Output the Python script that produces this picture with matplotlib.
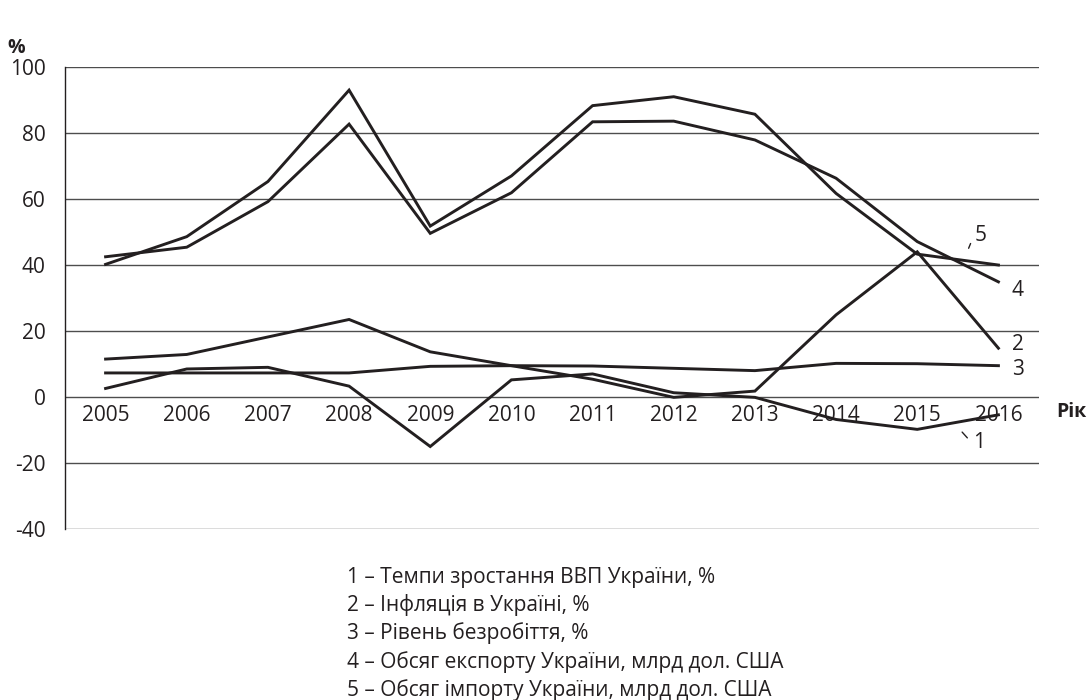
import matplotlib
matplotlib.use("Agg")
from matplotlib import pyplot as plt

# ─────────────────────────────────────────────────────────────
# DATA
# ─────────────────────────────────────────────────────────────

years        = [2005, 2006, 2007, 2008, 2009, 2010, 2011, 2012, 2013, 2014, 2015, 2016]
gdp_growth   = [2.5, 8.4, 8.9, 3.2, -15.1, 5.1, 6.9, 1.2, -0.2, -6.9, -9.9, -5.5]
inflation    = [11.4, 12.8, 18.1, 23.4, 13.6, 9.4, 5.3, -0.2, 1.7, 24.8, 43.9, 14.7]
unemployment = [7.2, 7.2, 7.2, 7.2, 9.2, 9.4, 9.3, 8.6, 7.9, 10.1, 10.0, 9.4]
export_vol   = [42.4, 45.3, 59.1, 82.6, 49.5, 61.8, 83.3, 83.5, 77.8, 66.2, 47.0, 34.8]
import_vol   = [40.1, 48.5, 65.2, 92.9, 51.7, 66.9, 88.2, 90.9, 85.6, 61.6, 43.2, 39.9]

y_ticks = [-40, -20, 0, 20, 40, 60, 80, 100]

legend_lines = [
    "1 – Темпи зростання ВВП України, %",
    "2 – Інфляція в Україні, %",
    "3 – Рівень безробіття, %",
    "4 – Обсяг експорту України, млрд дол. США",
    "5 – Обсяг імпорту України, млрд дол. США",
]

# ─────────────────────────────────────────────────────────────
# STYLE
# ─────────────────────────────────────────────────────────────

plt.rcParams["font.family"] = ["Open Sans", "DejaVu Sans"]
plt.rcParams["axes.unicode_minus"] = False   # plain hyphen like "-20"
INK  = "#231f20"
GRID = "#4d4d4d"
FS   = 15

fig = plt.figure(figsize=(10.9, 7.0), dpi=100)
ax  = fig.add_axes([65 / 1090, 1 - 528.7 / 700, 974 / 1090, 462 / 700])

for series in (gdp_growth, inflation, unemployment, export_vol, import_vol):
    ax.plot(years, series, color=INK, lw=2.1, solid_joinstyle="miter", zorder=3)

ax.set_xlim(2004.5, 2016.5)
ax.set_ylim(-40, 100)
ax.set_yticks(y_ticks)
ax.set_xticks(years)
ax.yaxis.grid(True, color=GRID, lw=1.0)
ax.set_axisbelow(True)

for side in ("top", "right"):
    ax.spines[side].set_visible(False)
ax.spines["bottom"].set_position(("data", 0))
ax.spines["bottom"].set_visible(False)
ax.spines["left"].set_color(INK)
ax.spines["left"].set_linewidth(1.0)

ax.tick_params(axis="y", length=0, pad=14, labelsize=FS, labelcolor=INK)
ax.tick_params(axis="x", length=0, pad=6, labelsize=FS, labelcolor=INK)

# series numbers next to the line ends
ax.text(2015.78, 49.0, "5", fontsize=FS, color=INK, ha="center", va="center")
ax.annotate("", xy=(2015.62, 44.2), xytext=(2015.67, 47.2),
            arrowprops=dict(arrowstyle="-", color=INK, lw=1.0))
ax.text(2016.23, 32.1, "4", fontsize=FS, color=INK, ha="center", va="center")
ax.text(2016.24, 15.7, "2", fontsize=FS, color=INK, ha="center", va="center")
ax.text(2016.24, 8.3, "3", fontsize=FS, color=INK, ha="center", va="center")
ax.text(2015.76, -14.0, "1", fontsize=FS, color=INK, ha="center", va="center")
ax.annotate("", xy=(2015.53, -10.1), xytext=(2015.64, -13.1),
            arrowprops=dict(arrowstyle="-", color=INK, lw=1.0))

# axis titles
ax.text(2016.71, -4.6, "Рік", fontsize=14, color=INK, fontweight="bold",
        ha="left", va="center", clip_on=False)
fig.text(16 / 1090, 1 - 48 / 700, "%", fontsize=14, color=INK,
         fontweight="bold", ha="center", va="center")

# legend below the chart
for i, line in enumerate(legend_lines):
    fig.text(346.7 / 1090, 1 - (577 + 28.2 * i) / 700, line,
             fontsize=FS, color=INK, ha="left", va="center")

fig.savefig("out.png", dpi=100)
